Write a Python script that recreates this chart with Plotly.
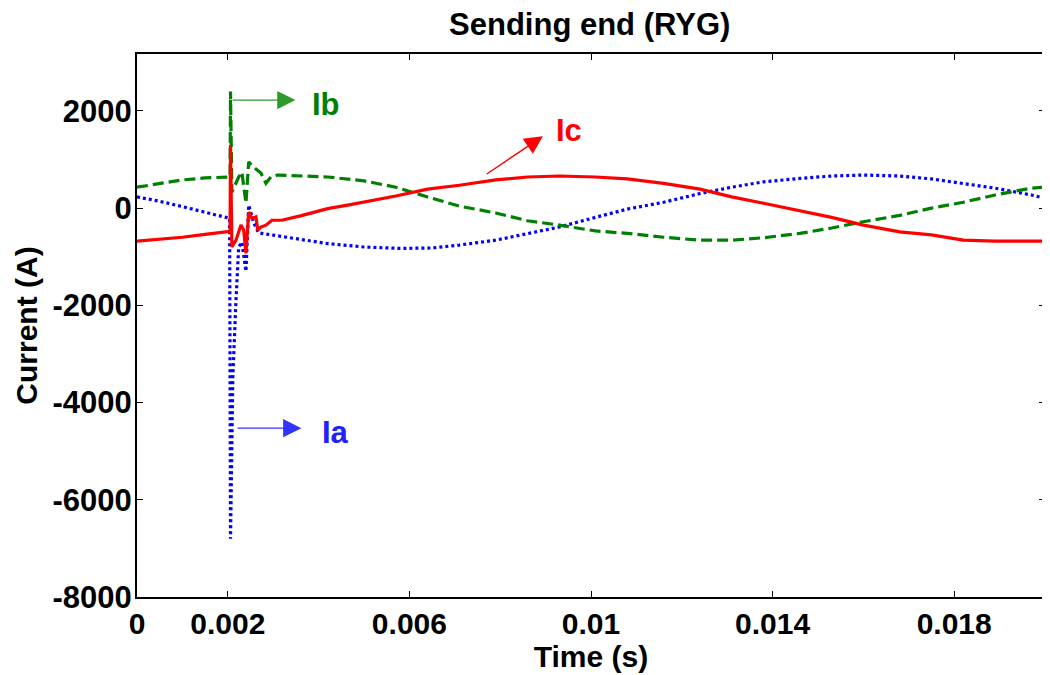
import plotly.graph_objects as go

# ---------------- data ----------------
t_a = [0, 0.0005, 0.001, 0.0015, 0.002, 0.00204, 0.00206, 0.00211, 0.00218, 0.00224,
       0.00231, 0.0024, 0.00246, 0.00257, 0.00268, 0.0029, 0.0035, 0.0042, 0.005, 0.0058,
       0.0065, 0.0071, 0.0079, 0.0086, 0.0093, 0.0101, 0.0108, 0.0116, 0.0124, 0.0131,
       0.0138, 0.0146, 0.0153, 0.016, 0.0168, 0.0175, 0.0182, 0.0189, 0.0197, 0.02]
ia = [230, 140, 30, -80, -200, -210, -6800, -3500, -1900, -800,
      -700, -1300, 60, -300, -510, -540, -620, -730, -800, -830,
      -820, -760, -660, -520, -390, -190, -20, 120, 300, 430,
      540, 610, 660, 680, 660, 600, 510, 410, 270, 200]

t_b = [0, 0.0005, 0.001, 0.0015, 0.002, 0.00205, 0.00206, 0.00209, 0.00224, 0.00231,
       0.0024, 0.00246, 0.00257, 0.00273, 0.00284, 0.00295, 0.0031, 0.0042, 0.005, 0.0057,
       0.0064, 0.0071, 0.0079, 0.0086, 0.0093, 0.0101, 0.0108, 0.0116, 0.0124, 0.0131,
       0.0138, 0.0146, 0.0153, 0.016, 0.0168, 0.0175, 0.0182, 0.0189, 0.0197, 0.02]
ib = [430, 510, 580, 620, 640, 640, 2400, 330, 640, 740,
      100, 950, 840, 720, 510, 640, 680, 640, 560, 430,
      230, 40, -100, -260, -350, -470, -520, -600, -660, -660,
      -610, -520, -410, -280, -150, 0, 120, 270, 410, 430]

t_c = [0, 0.0005, 0.001, 0.0015, 0.002, 0.00205, 0.00206, 0.00209, 0.00218, 0.00229,
       0.00235, 0.0024, 0.00246, 0.00253, 0.00262, 0.00266, 0.00273, 0.00284, 0.00297, 0.00319,
       0.0036, 0.0039, 0.0042, 0.0047, 0.005, 0.0057, 0.0064, 0.0071, 0.0079, 0.0086, 0.0093,
       0.0101, 0.0108, 0.0116, 0.0124, 0.0131, 0.0138, 0.0146, 0.0153, 0.016, 0.0168,
       0.0175, 0.0182, 0.0189, 0.02]
ic = [-680, -640, -600, -540, -490, -480, 1300, -800, -660, -350,
      -450, -930, -80, -210, -180, -450, -390, -350, -250, -250,
      -160, -80, -10, 70, 120, 250, 390, 470, 580, 640, 660,
      640, 600, 510, 390, 230, 100, -60, -190, -350, -490,
      -550, -660, -680, -680]

x_tickvals = [0, 0.002, 0.006, 0.01, 0.014, 0.018]
x_ticktext = ["0", "0.002", "0.006", "0.01", "0.014", "0.018"]
y_tickvals = [2000, 0, -2000, -4000, -6000, -8000]
y_ticktext = ["2000", "0", "-2000", "-4000", "-6000", "-8000"]

FONT = "Liberation Sans, Arial, sans-serif"

fig = go.Figure()
fig.add_trace(go.Scatter(x=t_a, y=ia, mode="lines", name="Ia",
                         line=dict(color="#0000ff", width=3.2, dash="3px,3px")))
fig.add_trace(go.Scatter(x=t_b, y=ib, mode="lines", name="Ib",
                         line=dict(color="#008000", width=3.2, dash="11px,5px")))
fig.add_trace(go.Scatter(x=t_c, y=ic, mode="lines", name="Ic",
                         line=dict(color="#ff0000", width=3.2)))

# arrow annotations
def arrow(x, y, ax, ay, color):
    fig.add_annotation(x=x, y=y, ax=ax, ay=ay, xref="x", yref="y", axref="x", ayref="y",
                       showarrow=True, arrowhead=2, arrowsize=2.6, arrowwidth=1.4,
                       arrowcolor=color, text="")

def label(x, y, txt, color):
    fig.add_annotation(x=x, y=y, xref="x", yref="y", text=txt, showarrow=False,
                       xanchor="left", yanchor="middle",
                       font=dict(family=FONT, size=31, color=color, weight="bold"))

arrow(0.00349, 2222, 0.00207, 2222, "#2e9a2e")
label(0.00382, 2140, "Ib", "#008000")
arrow(0.00894, 1480, 0.00767, 680, "#ff0000")
label(0.00918, 1590, "Ic", "#ff0000")
arrow(0.00362, -4527, 0.00218, -4527, "#3333ff")
label(0.00402, -4610, "Ia", "#2020ff")

# note: the page body adds an 8px offset, margins compensate for it
fig.update_layout(
    width=1050, height=675,
    paper_bgcolor="white", plot_bgcolor="white",
    margin=dict(l=129, r=13, t=46, b=86),
    showlegend=False,
    title=dict(text="Sending end (RYG)", x=0.554, xanchor="center",
               y=0.976, yanchor="middle", yref="container",
               font=dict(family=FONT, size=31, color="black", weight="bold")),
    font=dict(family=FONT, color="black"),
)
fig.update_xaxes(
    range=[0, 0.02], tickvals=x_tickvals, ticktext=x_ticktext, automargin=False,
    ticks="inside", ticklen=6, tickwidth=1, tickcolor="black",
    showline=True, linecolor="black", linewidth=2, mirror="ticks",
    showgrid=False, zeroline=False,
    tickfont=dict(family=FONT, size=30, color="black", weight="bold"),
    ticklabelstandoff=-1,
    title=dict(text="Time (s)", standoff=0,
               font=dict(family=FONT, size=30, color="black", weight="bold")),
)
fig.update_yaxes(
    range=[-8000, 3170], tickvals=y_tickvals, ticktext=y_ticktext, automargin=False,
    ticks="inside", ticklen=6, tickwidth=1, tickcolor="black",
    showline=True, linecolor="black", linewidth=2, mirror="ticks",
    showgrid=False, zeroline=False,
    tickfont=dict(family=FONT, size=31, color="black", weight="bold"),
    ticklabelstandoff=-3,
    title=dict(text="Current (A)", standoff=6,
               font=dict(family=FONT, size=30, color="black", weight="bold")),
)

fig.write_html("out.html")
